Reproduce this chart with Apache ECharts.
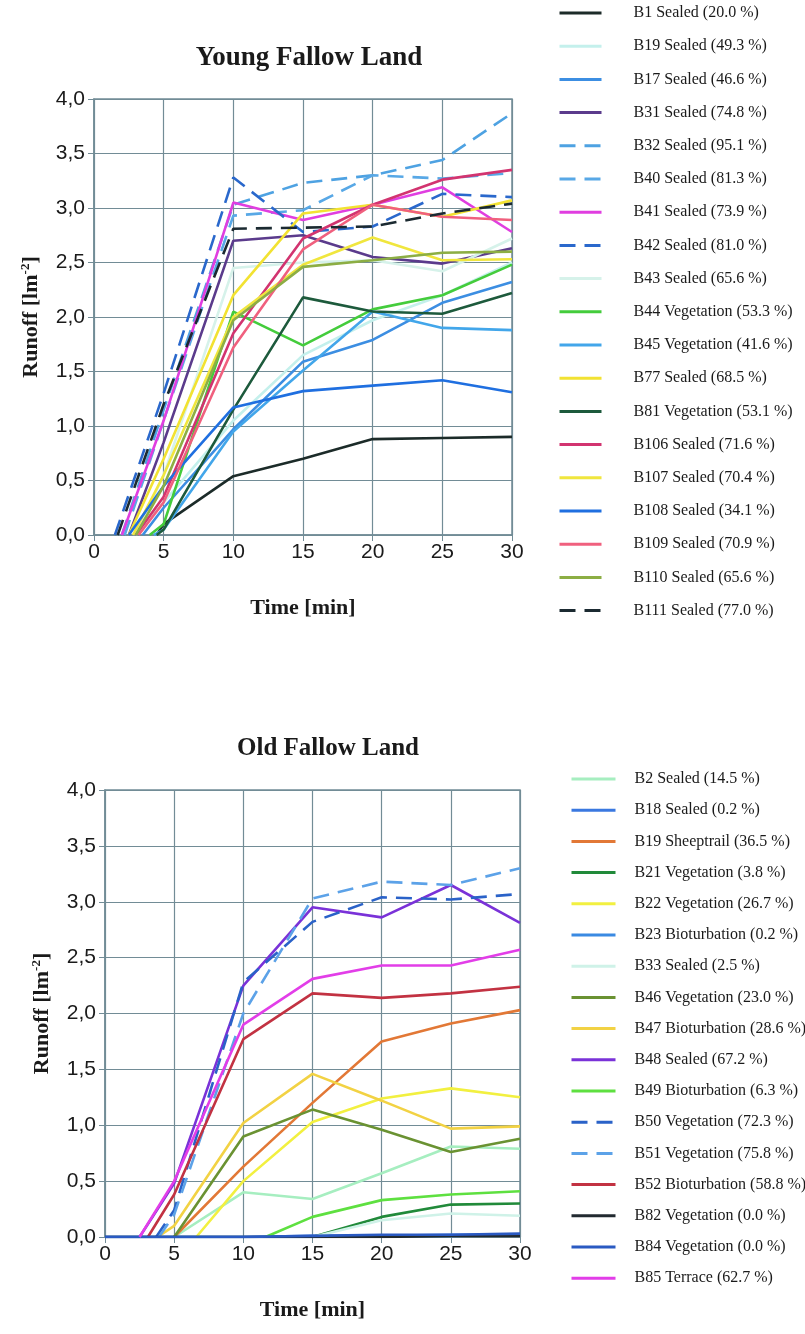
<!DOCTYPE html>
<html>
<head>
<meta charset="utf-8">
<script src="https://cdn.jsdelivr.net/npm/echarts@6/dist/echarts.min.js"></script>
<style>
  html, body { margin: 0; padding: 0; background: #fff; }
  #chart { width: 805px; height: 1334px; }
</style>
</head>
<body>
<div id="chart"></div>
<script>
// measurement times (min) after the onset point
const times = [5, 10, 15, 20, 25, 30];
const yTicks = [0, 0.5, 1, 1.5, 2, 2.5, 3, 3.5, 4];

// Young fallow land
const youngNames = [
  'B1 Sealed (20.0 %)', 'B19 Sealed (49.3 %)', 'B17 Sealed (46.6 %)', 'B31 Sealed (74.8 %)',
  'B32 Sealed (95.1 %)', 'B40 Sealed (81.3 %)', 'B41 Sealed (73.9 %)', 'B42 Sealed (81.0 %)',
  'B43 Sealed (65.6 %)', 'B44 Vegetation (53.3 %)', 'B45 Vegetation (41.6 %)', 'B77 Sealed (68.5 %)',
  'B81 Vegetation (53.1 %)', 'B106 Sealed (71.6 %)', 'B107 Sealed (70.4 %)', 'B108 Sealed (34.1 %)',
  'B109 Sealed (70.9 %)', 'B110 Sealed (65.6 %)', 'B111 Sealed (77.0 %)'
];
// time at which runoff starts (value 0)
const youngStart = [4.5, 3.0, 3.5, 2.5, 2.0, 2.2, 2.0, 1.5, 3.0, 4.0, 4.3, 2.5, 4.5, 3.0, 2.8, 2.5, 3.2, 3.0, 1.7];
const youngRunoff = [
  [0.10, 0.54, 0.70, 0.88, 0.89, 0.90],
  [0.30, 1.05, 1.65, 1.97, 2.20, 2.50],
  [0.25, 0.97, 1.59, 1.79, 2.13, 2.32],
  [0.85, 2.70, 2.75, 2.55, 2.49, 2.63],
  [1.15, 3.03, 3.23, 3.30, 3.44, 3.87],
  [1.05, 2.93, 2.98, 3.30, 3.27, 3.32],
  [1.05, 3.05, 2.89, 3.03, 3.19, 2.78],
  [1.30, 3.28, 2.78, 2.83, 3.13, 3.10],
  [0.55, 2.45, 2.50, 2.52, 2.42, 2.72],
  [0.10, 2.05, 1.74, 2.07, 2.20, 2.48],
  [0.05, 0.95, 1.51, 2.05, 1.90, 1.88],
  [0.70, 2.20, 2.95, 3.03, 2.92, 3.07],
  [0.05, 1.15, 2.18, 2.05, 2.03, 2.22],
  [0.35, 1.85, 2.72, 3.03, 3.26, 3.35],
  [0.55, 2.00, 2.48, 2.73, 2.52, 2.53],
  [0.45, 1.17, 1.32, 1.37, 1.42, 1.31],
  [0.30, 1.72, 2.62, 3.03, 2.92, 2.89],
  [0.45, 1.97, 2.46, 2.52, 2.59, 2.60],
  [1.20, 2.81, 2.82, 2.83, 2.95, 3.04]
];
const youngColors = ['#1c2b29', '#c4f0ec', '#3c8ee2', '#5b3b8c', '#4ea2e2', '#58a8e6', '#e03ee0', '#2a68cc',
  '#d6f2ea', '#44cc3c', '#42a6ea', '#f2e232', '#1d5a3c', '#d23470', '#f0e63e', '#1f6fe0', '#f0607e', '#8cae44', '#1b2a31'];
const youngDashed = ['B32 Sealed (95.1 %)', 'B40 Sealed (81.3 %)', 'B42 Sealed (81.0 %)', 'B111 Sealed (77.0 %)'];

// Old fallow land
const oldNames = [
  'B2 Sealed (14.5 %)', 'B18 Sealed (0.2 %)', 'B19 Sheeptrail (36.5 %)', 'B21 Vegetation (3.8 %)',
  'B22 Vegetation (26.7 %)', 'B23 Bioturbation (0.2 %)', 'B33 Sealed (2.5 %)', 'B46 Vegetation (23.0 %)',
  'B47 Bioturbation (28.6 %)', 'B48 Sealed (67.2 %)', 'B49 Bioturbation (6.3 %)', 'B50 Vegetation (72.3 %)',
  'B51 Vegetation (75.8 %)', 'B52 Bioturbation (58.8 %)', 'B82 Vegetation (0.0 %)', 'B84 Vegetation (0.0 %)',
  'B85 Terrace (62.7 %)'
];
const oldStart = [5, 0, 5, 15, 6.6, 0, 15, 5, 3.8, 2.5, 11.6, 3.7, 3.9, 3.1, 0, 0, 2.5];
const oldRunoff = [
  [null, 0.40, 0.34, 0.57, 0.81, 0.79],
  [0, 0, 0.01, 0.01, 0.02, 0.02],
  [null, 0.63, 1.20, 1.75, 1.91, 2.03],
  [null, null, null, 0.18, 0.29, 0.30],
  [null, 0.50, 1.03, 1.24, 1.33, 1.25],
  [0, 0, 0, 0.01, 0.01, 0.02],
  [null, null, null, 0.15, 0.21, 0.19],
  [null, 0.90, 1.14, 0.96, 0.76, 0.88],
  [0.10, 1.02, 1.46, 1.22, 0.97, 0.99],
  [0.48, 2.25, 2.95, 2.86, 3.15, 2.81],
  [null, null, 0.18, 0.33, 0.38, 0.41],
  [0.24, 2.28, 2.82, 3.04, 3.02, 3.07],
  [0.20, 2.00, 3.03, 3.18, 3.15, 3.30],
  [0.38, 1.77, 2.18, 2.14, 2.18, 2.24],
  [0, 0, 0, 0, 0.01, 0.01],
  [0, 0, 0.01, 0.02, 0.02, 0.03],
  [0.50, 1.90, 2.31, 2.43, 2.43, 2.57]
];
const oldColors = ['#a6eec0', '#3a78e0', '#e27836', '#218a3a', '#f2f040', '#3a8ae2', '#cff2e8', '#6a9232',
  '#f2d244', '#7a32d8', '#5ee040', '#2a62c8', '#5ca2e8', '#c23242', '#222a30', '#2a5ac2', '#e23ee8'];
const oldDashed = ['B50 Vegetation (72.3 %)', 'B51 Vegetation (75.8 %)'];

const serif = '"Liberation Serif", "DejaVu Serif", serif';
const sans = '"Liberation Sans", Arial, sans-serif';
const gridColor = '#728c96';

function buildSeries(names, starts, runoff, colors, dashed, idx) {
  return names.map((name, i) => {
    let data = [[starts[i], 0]];
    runoff[i].forEach((v, k) => {
      if (v !== null && times[k] > starts[i]) data.push([times[k], v]);
    });
    return {
      name: name,
      type: 'line',
      xAxisIndex: idx,
      yAxisIndex: idx,
      data: data,
      symbol: 'none',
      color: colors[i],
      lineStyle: {
        color: colors[i],
        width: 2.6,
        type: dashed.indexOf(name) >= 0 ? [16, 9] : 'solid'
      },
      z: 3
    };
  });
}

function xAxis(idx) {
  return {
    type: 'value', gridIndex: idx, min: 0, max: 30, interval: 5,
    name: 'Time [min]', nameLocation: 'middle', nameGap: 62,
    nameTextStyle: { fontFamily: serif, fontWeight: 'bold', fontSize: 22, color: '#1a1a1a' },
    axisLine: { show: true, lineStyle: { color: gridColor, width: 1.5 } },
    axisTick: { show: true, length: 6, lineStyle: { color: gridColor } },
    axisLabel: { fontFamily: sans, fontSize: 21, color: '#1a1a1a', margin: 7 },
    splitLine: { show: true, lineStyle: { color: gridColor, width: 1.2 } }
  };
}

function yAxis(idx) {
  return {
    type: 'value', gridIndex: idx, min: 0, max: 4, interval: 0.5,
    name: 'Runoff [lm{sup|-2}]', nameLocation: 'middle', nameGap: 50,
    nameTextStyle: {
      fontFamily: serif, fontWeight: 'bold', fontSize: 22, color: '#1a1a1a',
      rich: { sup: { fontFamily: serif, fontWeight: 'bold', fontSize: 13, color: '#1a1a1a', padding: [0, 0, 12, 0] } }
    },
    axisLine: { show: true, lineStyle: { color: gridColor, width: 1.5 } },
    axisTick: { show: true, length: 6, lineStyle: { color: gridColor } },
    axisLabel: {
      fontFamily: sans, fontSize: 21, color: '#1a1a1a', margin: 9,
      formatter: v => yTicks.indexOf(v) >= 0 ? v.toFixed(1).replace('.', ',') : ''
    },
    splitLine: { show: true, lineStyle: { color: gridColor, width: 1.2 } }
  };
}

function legend(names, top, left, gap, iconW, pad) {
  return {
    orient: 'vertical', left: left, top: top, data: names,
    itemWidth: iconW, itemHeight: 14, itemGap: gap,
    // hide the marker dot, keep only the line sample
    itemStyle: { color: 'transparent', borderColor: 'transparent', borderWidth: 0, opacity: 0 },
    lineStyle: { width: 3 },
    textStyle: { fontFamily: serif, fontSize: 16, color: '#1a1a1a', lineHeight: 14, padding: [0, 0, 0, pad] },
    selectedMode: false
  };
}

const chart = echarts.init(document.getElementById('chart'));
const option = {
  backgroundColor: '#fff',
  animation: false,
  title: [
    { text: 'Young Fallow Land', left: 304, top: 40, textAlign: 'center',
      textStyle: { fontFamily: serif, fontWeight: 'bold', fontSize: 27, color: '#1a1a1a' } },
    { text: 'Old Fallow Land', left: 323, top: 731, textAlign: 'center',
      textStyle: { fontFamily: serif, fontWeight: 'bold', fontSize: 25, color: '#1a1a1a' } }
  ],
  grid: [
    { left: 94, top: 99, width: 418, height: 436, show: true, borderColor: gridColor, borderWidth: 1.5 },
    { left: 105, top: 790, width: 415, height: 447, show: true, borderColor: gridColor, borderWidth: 1.5 }
  ],
  xAxis: [xAxis(0), xAxis(1)],
  yAxis: [yAxis(0), yAxis(1)],
  legend: [
    legend(youngNames, 0, 553, 17.2, 42, 27),
    legend(oldNames, 766, 565, 15.2, 44, 14)
  ],
  series: buildSeries(youngNames, youngStart, youngRunoff, youngColors, youngDashed, 0)
    .concat(buildSeries(oldNames, oldStart, oldRunoff, oldColors, oldDashed, 1))
};
chart.setOption(option);
</script>
</body>
</html>
